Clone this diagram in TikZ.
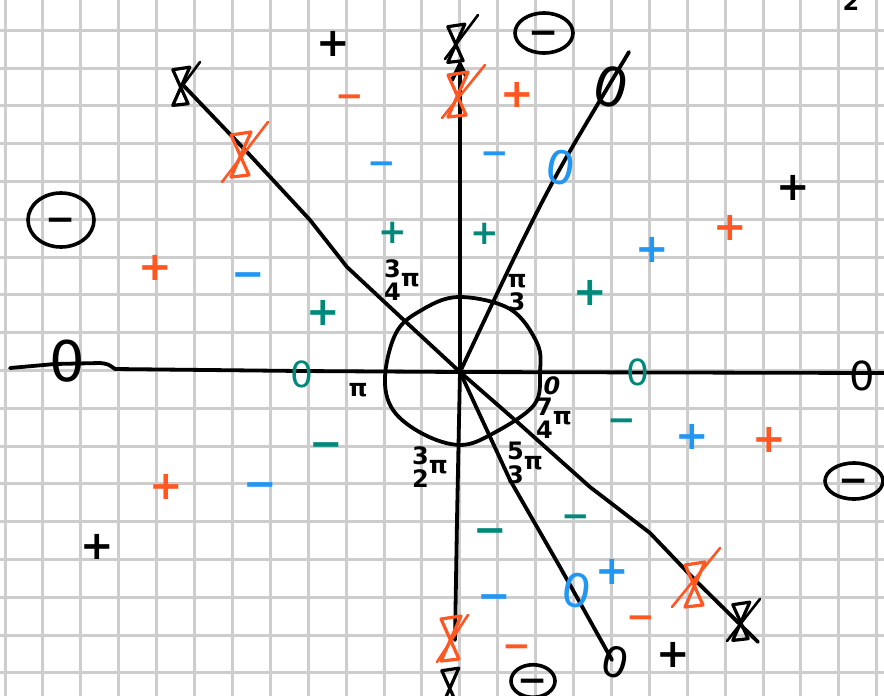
\documentclass[tikz,border=0pt]{standalone}
\usepackage{fontspec}
\setmainfont{DejaVu Sans}
\usetikzlibrary{shapes.geometric}
\definecolor{orng}{HTML}{FF5722}
\definecolor{blu}{HTML}{2196F3}
\definecolor{tel}{HTML}{00897B}
\definecolor{grd}{HTML}{CDCDCD}
\newcommand\fr[2]{\begin{tabular}{@{}c@{}}#1\\#2\end{tabular}}
\begin{document}
\begin{tikzpicture}[x=1pt,y=-1pt,
  gridline/.style={grd, line width=3pt},
  axis/.style={black, line width=3.8pt, line cap=round, line join=round},
  sgn/.style={inner sep=0pt, font=\bfseries\fontsize{40}{40}\selectfont, text height=25.6pt, text depth=0pt},
  sgs/.style={inner sep=0pt, font=\bfseries\fontsize{34}{34}\selectfont, text height=21.8pt, text depth=0pt},
  zero/.style={inner sep=0pt, font=\fontsize{#1}{#1}\selectfont},
  circm/.style={ellipse, draw, line width=3.6pt, inner sep=0pt, font=\bfseries\fontsize{36}{36}\selectfont, text height=23pt, text depth=0pt},
  lbl/.style={inner sep=0pt, font=\bfseries\fontsize{24}{20}\selectfont},
  hg/.pic={\draw[line width=3.2pt, line join=round, line cap=round] (-12,-18) -- (8,-21) -- (-12,24) -- (6,22) -- cycle;},
  slash/.style={line width=2.6pt, line cap=round}
]
\fill[white] (0,0) rectangle (884,696);
\useasboundingbox (0,0) rectangle (884,696);
% grid
\foreach \k in {0,...,23} \draw[gridline] ({5+37.9*\k},0) -- ({5+37.9*\k},696);
\foreach \k in {1,...,18} \draw[gridline] (0,{-7.6+37.8*\k}) -- (884,{-7.6+37.8*\k});

% centre
\coordinate (O) at (460,372);
% axes and rays
\draw[axis] (10,368) -- (55,364) -- (100,363) .. controls (108,364) .. (115,369) -- (300,371) -- (O) -- (884,373);
\draw[axis] (460,64) -- (460,200) -- (O) -- (457,520) -- (455,640);
\draw[axis] (452,80) -- (460,64) -- (466,76);
\draw[axis] plot[smooth] coordinates {(O) (518,250) (562,165) (629,52)};
\draw[axis] (183,85) -- (247,152) -- (310,220) -- (347,267) -- (407,323) -- (O) -- (515,420) -- (590,487) -- (650,533) -- (695,580) -- (758,642);
\draw[axis] (O) -- (510,480) -- (560,567) -- (612,660);
% circle
\draw[axis] plot[smooth cycle, tension=0.6] coordinates {(458,297) (510,309) (537,343) (540,372) (534,405) (492,434) (460,445) (423,434) (393,410) (385,377) (396,333) (420,311)};

% angle labels
\node[lbl] (l34) at (402,283) {\fr{3}{4}\raisebox{3pt}{π}};
\node[lbl] (l13) at (517,295) {\fr{π}{3}};
\node[lbl, font=\bfseries\itshape\fontsize{24}{24}\selectfont] (l0) at (552,386) {0};
\node[lbl] (l74) at (554,421) {\fr{7}{4}\raisebox{3pt}{π}};
\node[lbl] (l53) at (525,466) {\fr{5}{3}\raisebox{3pt}{π}};
\node[lbl] (l32) at (430,470) {\fr{3}{2}\raisebox{3pt}{π}};
\node[lbl] (lpi) at (358,390) {π};
\node[lbl, anchor=base] (two) at (851,10) {2};

% undefined symbols (hourglass with slash)
\pic[black, scale=0.85] at (183,85) {hg};
\draw[black, slash] (200,62) -- (183,85);
\pic[black, scale=0.85] at (458,42) {hg};
\draw[black, slash] (478,15) -- (445,59);
\pic[black, scale=0.85] at (743,620) {hg};
\draw[black, slash] (760,599) -- (727,641);
\pic[black, scale=0.85] at (452,686) {hg};
\pic[orng] at (243,153) {hg};
\draw[orng, slash] (268,122) -- (222,182);
\pic[orng] at (460,93) {hg};
\draw[orng, slash] (485,65) -- (442,118);
\pic[orng] at (697,583) {hg};
\draw[orng, slash] (720,548) -- (672,607);
\pic[orng] at (453,637) {hg};
\draw[orng, slash] (468,615) -- (437,662);

% zeros on rays
\node[zero=54, rotate=-15] (z1) at (611,87) {0};
\node[zero=56] (z2) at (67,361) {0};
\node[zero=40] (z3) at (862,376) {0};
\node[zero=42, rotate=-15] (z4) at (615,662) {0};
\node[zero=46, blu, rotate=-10] (z5) at (561,168) {0};
\node[zero=46, blu, rotate=-10] (z6) at (577,591) {0};
\node[zero=36, tel] (z7) at (302,374) {0};
\node[zero=36, tel] (z8) at (638,372) {0};

% circled minus
\node[circm, minimum width=58pt, minimum height=40pt] (c1) at (544,33) {−};
\node[circm, minimum width=66pt, minimum height=54pt] (c2) at (61,220) {−};
\node[circm, minimum width=58pt, minimum height=36pt] (c3) at (854,481) {−};
\node[circm, minimum width=44pt, minimum height=32pt] (c4) at (533,681) {−};

% black signs
\node[sgn] (b1) at (333,44) {+};
\node[sgn] (b2) at (793,188) {+};
\node[sgn] (b3) at (97,547) {+};
\node[sgn] (b4) at (673,655) {+};
% orange signs
\node[sgs, orng] (o1) at (350,97) {−};
\node[sgn, orng] (o2) at (517,95) {+};
\node[sgn, orng] (o3) at (155,268) {+};
\node[sgn, orng] (o4) at (730,228) {+};
\node[sgn, orng] (o5) at (769,440) {+};
\node[sgn, orng] (o6) at (166,487) {+};
\node[sgs, orng] (o7) at (641,618) {−};
\node[sgs, orng] (o8) at (517,647) {−};
% blue signs
\node[sgs, blu] (u1) at (382,164) {−};
\node[sgs, blu] (u2) at (495,154) {−};
\node[sgn, blu] (u3) at (248,275) {−};
\node[sgn, blu] (u4) at (652,250) {+};
\node[sgn, blu] (u5) at (692,437) {+};
\node[sgn, blu] (u6) at (260,485) {−};
\node[sgn, blu] (u7) at (612,572) {+};
\node[sgn, blu] (u8) at (494,597) {−};
% teal signs
\node[sgs, tel] (t1) at (393,233) {+};
\node[sgs, tel] (t2) at (485,234) {+};
\node[sgn, tel] (t3) at (323,313) {+};
\node[sgn, tel] (t4) at (590,293) {+};
\node[sgn, tel] (t5) at (326,445) {−};
\node[sgs, tel] (t6) at (622,421) {−};
\node[sgn, tel] (t7) at (490,531) {−};
\node[sgs, tel] (t8) at (576,517) {−};
\end{tikzpicture}
\end{document}
